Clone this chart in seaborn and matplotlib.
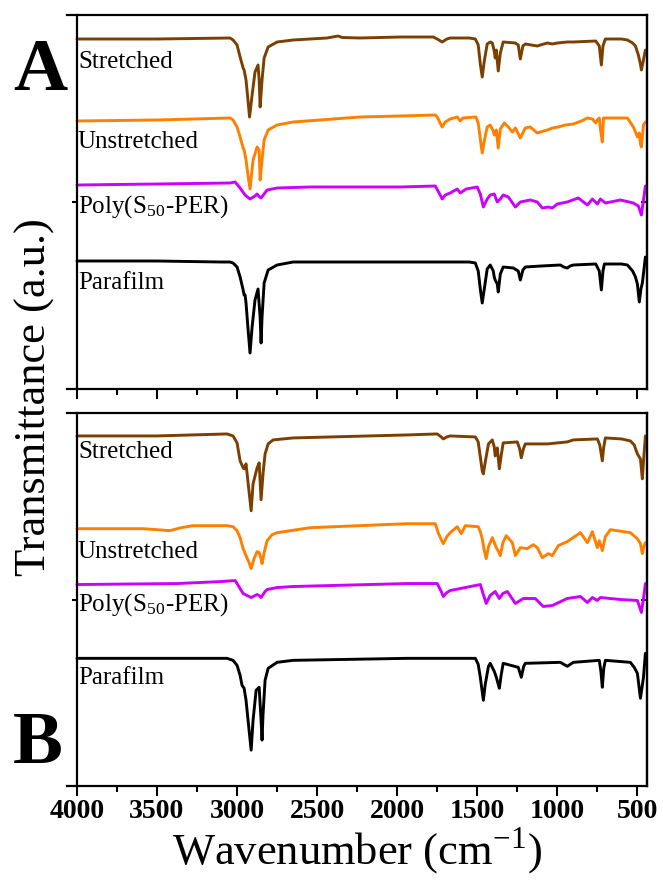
import matplotlib
matplotlib.use("Agg")
import matplotlib.pyplot as plt
import seaborn as sns
import pandas as pd
from matplotlib.ticker import MultipleLocator

# ---------------- data (wavenumber in cm-1, transmittance in a.u.) ----------------
A_str_wn = [4000, 3500, 3044, 3025, 3000, 2981, 2962, 2956, 2944, 2935, 2922, 2906, 2888, 2869, 2862, 2856,
            2844, 2831, 2806, 2750, 2650, 2438, 2369, 2344, 2231, 1981, 1775, 1750, 1719, 1690, 1669,
            1550, 1512, 1494, 1481, 1469, 1456, 1438, 1419, 1406, 1394, 1388, 1381, 1369, 1356, 1338,
            1262, 1244, 1231, 1215, 1200, 1125, 1106, 1062, 1031, 1000, 938, 900, 760, 738, 725, 715,
            700, 600, 562, 530, 512, 494, 481, 475, 462, 450]
A_str_t = [350, 350, 351, 349, 344, 332, 321, 319, 309, 294, 272, 294, 317, 324, 309, 282,
           309, 331, 342, 347, 349, 351, 353, 351.5, 351, 352, 352, 350, 347, 350, 351,
           351, 350, 344, 325, 312, 328, 345, 347, 346, 338, 331, 339, 318, 336, 347,
           346, 344, 330, 343, 345, 343, 344, 346, 345, 346, 347, 347, 348, 343, 324, 343,
           350, 350, 349, 346, 343, 334, 325, 319, 329, 339]

A_uns_wn = [4000, 3500, 3044, 3025, 3000, 2981, 2962, 2956, 2944, 2932, 2919, 2900, 2875, 2862, 2856, 2844,
            2831, 2806, 2750, 2650, 2231, 1981, 1762, 1750, 1732, 1719, 1700, 1669, 1625, 1606, 1590,
            1508, 1494, 1481, 1469, 1456, 1438, 1419, 1400, 1394, 1381, 1369, 1356, 1331, 1306, 1281,
            1262, 1231, 1200, 1169, 1125, 1106, 1062, 1031, 994, 950, 900, 850, 812, 781, 760, 750,
            738, 731, 719, 712, 650, 562, 525, 512, 500, 488, 481, 475, 462, 450]
A_uns_t = [268, 269, 271, 269, 262, 252, 241, 239, 229, 214, 200, 229, 242, 239, 209, 229,
           249, 259, 264, 267, 272, 273, 274, 272, 266, 262, 267, 270, 272, 268, 271,
           272, 266, 250, 236, 248, 262, 264, 258, 254, 259, 241, 260, 266, 262, 257,
           261, 251, 261, 262, 256, 257, 259, 261, 262, 264, 265, 268, 271, 270, 266, 269,
           271, 260, 247, 271, 271, 271, 262, 257, 252, 256, 245, 242, 264, 267]

A_pol_wn = [4000, 3500, 3044, 3012, 2981, 2950, 2919, 2888, 2875, 2862, 2850, 2812, 2750, 2544, 1981, 1762,
            1738, 1719, 1700, 1669, 1625, 1606, 1569, 1500, 1481, 1462, 1438, 1419, 1394, 1375, 1356,
            1338, 1306, 1262, 1231, 1169, 1125, 1094, 1056, 1031, 1000, 938, 869, 812, 781, 750, 731,
            700, 606, 525, 494, 475, 462, 450]
A_pol_t = [204, 205, 206, 207, 201, 194, 190, 193, 195, 192.5, 191, 199, 201, 202, 202, 203,
           196, 190, 194, 196, 200, 196, 200, 202, 195, 182, 190, 194, 195, 187, 190,
           194, 192, 182, 187, 189, 187, 181, 182, 181, 185, 187, 191, 184, 190, 185, 190,
           186, 189, 186, 183, 174, 189, 203]

A_par_wn = [4000, 3500, 3100, 3044, 3025, 3000, 2981, 2962, 2956, 2950, 2944, 2931, 2919, 2906, 2888, 2869,
            2856, 2850, 2844, 2831, 2806, 2750, 2650, 1981, 1550, 1512, 1494, 1481, 1469, 1456, 1438,
            1419, 1400, 1394, 1388, 1375, 1369, 1356, 1338, 1275, 1244, 1231, 1215, 1200, 1100, 981,
            960, 938, 920, 900, 760, 738, 725, 715, 706, 600, 562, 530, 512, 500, 488, 478, 469, 460, 450]
A_par_t = [128, 128, 127, 127, 126, 122, 112, 99, 94, 94, 86, 59, 36, 62, 89, 100,
           72, 46, 72, 106, 119, 124, 127, 127, 127, 126, 118, 100, 86, 100, 120,
           124, 118, 112, 109, 105, 97, 115, 122, 121, 118, 109, 119, 122, 123, 124,
           122, 121, 123, 124, 125, 118, 99, 118, 125, 125, 124, 118, 112, 105, 87, 100, 106, 118, 132]

B_str_wn = [4000, 3500, 3062, 3025, 3000, 2981, 2962, 2956, 2944, 2925, 2912, 2900, 2875, 2862, 2850, 2838,
            2825, 2806, 2775, 2650, 1938, 1750, 1725, 1712, 1690, 1669, 1512, 1494, 1481, 1469, 1462,
            1450, 1430, 1406, 1394, 1388, 1375, 1362, 1350, 1338, 1250, 1235, 1225, 1212, 1200, 1106,
            1062, 938, 900, 750, 735, 719, 710, 700, 600, 544, 520, 500, 481, 475, 469, 462, 450]
B_str_t = [351, 351, 353, 351, 344, 326, 319, 318, 323, 295, 276, 303, 319, 324, 287, 313,
           333, 343, 347, 349, 352, 353, 350, 348, 350, 351, 350, 345, 330, 316, 313,
           325, 343, 347, 340, 331, 339, 318, 332, 344, 345, 338, 329, 338, 343, 343,
           343, 345, 347, 348, 342, 326, 340, 349, 348, 346, 342, 333, 328, 318, 308, 325, 351]

B_uns_wn = [4000, 3588, 3500, 3419, 3350, 3275, 3062, 3025, 3000, 2981, 2962, 2944, 2925, 2912, 2894, 2875,
            2862, 2850, 2844, 2831, 2812, 2781, 2750, 2544, 1938, 1762, 1744, 1725, 1712, 1690, 1669,
            1625, 1600, 1575, 1494, 1481, 1469, 1456, 1444, 1430, 1406, 1381, 1370, 1356, 1340, 1319,
            1281, 1262, 1231, 1188, 1150, 1125, 1094, 1056, 1031, 994, 938, 856, 812, 781, 750, 738,
            719, 700, 669, 544, 500, 481, 469, 460, 450]
B_uns_t = [258, 258, 257, 256, 259, 261, 261, 260, 256, 249, 238, 231, 224, 218, 228, 235,
           234, 228, 223, 234, 246, 252, 254, 259, 263, 263, 254, 247, 243, 250, 254,
           260, 253, 261, 260, 255, 248, 236, 228, 240, 249, 239, 236, 231, 244, 251,
           244, 231, 239, 238, 242, 239, 229, 233, 231, 241, 245, 254, 244, 255, 239, 246,
           236, 250, 257, 254, 248, 243, 233, 240, 244]

B_pol_wn = [4000, 3375, 3100, 3012, 2981, 2962, 2912, 2875, 2862, 2850, 2825, 2812, 2750, 2650, 1938, 1750,
            1725, 1712, 1690, 1669, 1606, 1481, 1462, 1444, 1420, 1388, 1362, 1340, 1312, 1262, 1212,
            1138, 1088, 1031, 938, 856, 812, 781, 750, 731, 606, 500, 475, 462, 450]
B_pol_t = [202, 203, 205, 206, 198, 193, 189, 192, 191, 189, 195, 197, 199, 200, 203, 203,
           195, 190, 194, 196, 198, 202, 192, 183, 191, 195, 188, 193, 195, 183, 188,
           188, 180, 181, 188, 190, 184, 189, 186, 189, 187, 186, 174, 188, 203]

B_par_wn = [4000, 3500, 3062, 3025, 3000, 2981, 2969, 2956, 2944, 2925, 2912, 2900, 2881, 2862, 2850, 2844,
            2838, 2825, 2806, 2750, 2650, 1938, 1512, 1494, 1481, 1462, 1450, 1430, 1419, 1394, 1381,
            1362, 1350, 1338, 1244, 1225, 1210, 1200, 981, 938, 900, 738, 728, 719, 710, 700, 544,
            520, 500, 481, 470, 462, 450]
B_par_t = [128, 128, 128, 126, 121, 111, 101, 98, 86, 56, 36, 66, 96, 99, 66, 46,
           71, 106, 118, 124, 126, 128, 128, 122, 109, 86, 102, 120, 123, 115, 109,
           98, 112, 123, 119, 109, 120, 123, 124, 120, 124, 126, 115, 99, 118, 126, 124,
           119, 113, 88, 100, 109, 133]

series_names = ["Stretched", "Unstretched", "Poly(S$_{\\mathregular{50}}$-PER)", "Parafilm"]
series_colors = ["#7B3F00", "#FF8000", "#CC00FF", "#000000"]
x_ticks = [4000, 3500, 3000, 2500, 2000, 1500, 1000, 500]

panel_A = [(A_str_wn, A_str_t), (A_uns_wn, A_uns_t), (A_pol_wn, A_pol_t), (A_par_wn, A_par_t)]
panel_B = [(B_str_wn, B_str_t), (B_uns_wn, B_uns_t), (B_pol_wn, B_pol_t), (B_par_wn, B_par_t)]

# label baselines (a.u.) per panel
label_y_A = [321, 241, 176, 100]
label_y_B = [329, 229, 176, 102]

# ---------------- style ----------------
sns.set_style("ticks")
plt.rcParams["font.family"] = ["Liberation Serif", "DejaVu Serif"]
plt.rcParams["mathtext.fontset"] = "stix"
plt.rcParams["text.color"] = "black"
plt.rcParams["axes.labelcolor"] = "black"
plt.rcParams["xtick.color"] = "black"
plt.rcParams["ytick.color"] = "black"

W, H = 663, 883
fig = plt.figure(figsize=(W / 100, H / 100), dpi=100)
axA = fig.add_axes([67 / W, 1 - 389 / H, 580 / W, 374 / H])
axB = fig.add_axes([67 / W, 1 - 786 / H, 580 / W, 373 / H])


def build(panel):
    rows = []
    for name, (wn, t) in zip(series_names, panel):
        for a, b in zip(wn, t):
            rows.append({"wn": a, "t": b, "s": name})
    return pd.DataFrame(rows)


for ax, panel, ly in [(axA, panel_A, label_y_A), (axB, panel_B, label_y_B)]:
    df = build(panel)
    sns.lineplot(data=df, x="wn", y="t", hue="s", palette=dict(zip(series_names, series_colors)),
                 estimator=None, sort=False, linewidth=2.1, legend=False, ax=ax)
    ax.set_xlim(4062, 440)
    ax.set_ylim(0, 374)
    ax.spines["left"].set_position(("data", 4000))
    for sp in ax.spines.values():
        sp.set_linewidth(1.6)
        sp.set_color("black")
    ax.xaxis.set_major_locator(MultipleLocator(500))
    ax.xaxis.set_minor_locator(MultipleLocator(250))
    ax.tick_params(axis="x", which="major", direction="out", length=7, width=1.5, pad=2)
    ax.tick_params(axis="x", which="minor", direction="out", length=4, width=1.5)
    ax.set_yticks([187])
    ax.set_yticklabels([])
    ax.tick_params(axis="y", direction="out", length=3.5, width=1.5)
    sec = ax.secondary_yaxis("right")
    sec.set_yticks([187])
    sec.set_yticklabels([])
    sec.tick_params(direction="in", length=4, width=1.5)
    sec.spines["right"].set_linewidth(1.6)
    ax.set_ylabel("")
    ax.set_xlabel("")
    for name, y in zip(series_names, ly):
        ax.text(3994, y, name, fontsize=18, ha="left", va="baseline", color="black")

axA.set_xticks(x_ticks)
axA.set_xticklabels([])
axB.set_xticks(x_ticks)
axB.set_xticklabels([str(v) for v in x_ticks], fontsize=20, fontweight="bold")
axB.set_xlabel("Wavenumber (cm$^{\\mathregular{-1}}$)", fontsize=32, labelpad=1)

fig.text(35 / W, 1 - 397 / H, "Transmittance (a.u.)", rotation=90, fontsize=32,
         ha="center", va="center")
fig.text(40 / W, 1 - 72 / H, "A", fontsize=54, fontweight="bold", ha="center", va="center")
fig.text(38 / W, 1 - 745 / H, "B", fontsize=54, fontweight="bold", ha="center", va="center")

fig.savefig("out.png", dpi=100)
